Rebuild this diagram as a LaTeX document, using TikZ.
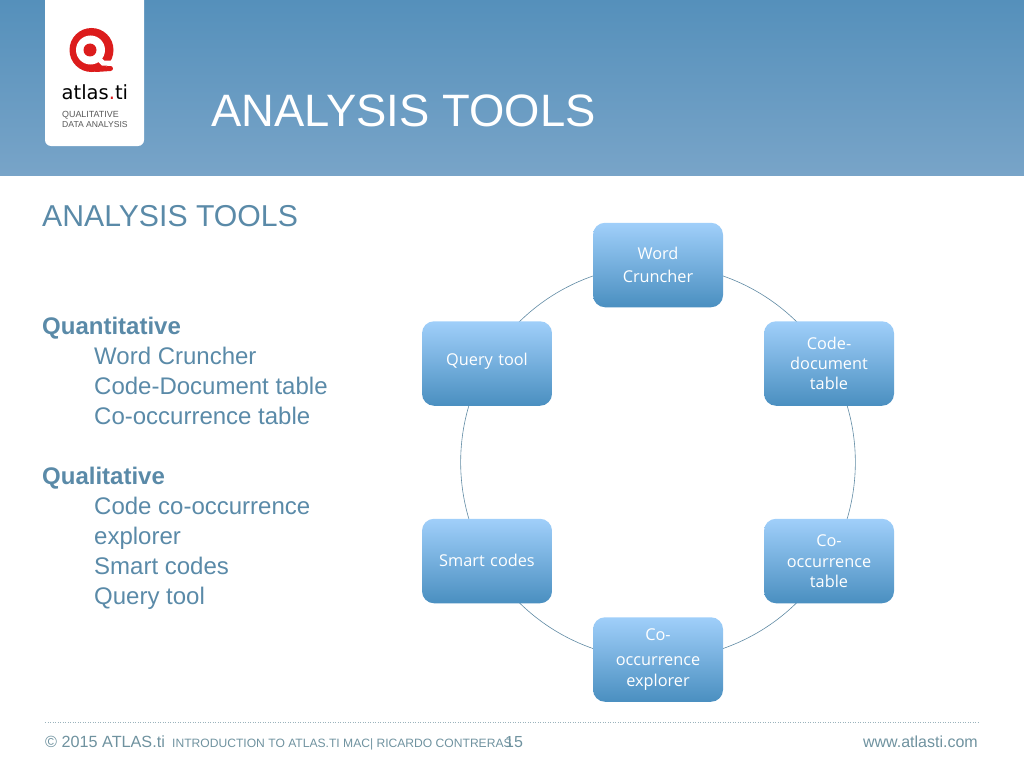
\documentclass[tikz,border=0pt]{standalone}
\usepackage{fontspec}
\setmainfont{Liberation Sans}
\newfontfamily\boxfont{Open Sans}
\newfontfamily\logofont{DejaVu Sans}
\usetikzlibrary{backgrounds}
\definecolor{headtop}{HTML}{5590BB}
\definecolor{headbot}{HTML}{78A4C8}
\definecolor{boxtop}{HTML}{A0CFFA}
\definecolor{boxbot}{HTML}{4A8FC0}
\definecolor{bodytxt}{HTML}{5A8AA8}
\definecolor{foottxt}{HTML}{6F929F}
\definecolor{ringcol}{HTML}{5F8AA3}
\definecolor{logored}{HTML}{DC1C1C}
\newcommand{\fs}[1]{\fontsize{#1}{#1}\selectfont}
\newcommand{\dn}[1]{\vspace*{#1}}
\tikzset{
  x=1pt,y=-1pt,
  cyclebox/.style={rectangle,rounded corners=12pt,minimum width=130pt,minimum height=84.5pt,
    top color=boxtop,bottom color=boxbot,inner sep=2pt,text=white,align=center,text width=110pt,
    font={\boxfont\fontsize{16.3}{20.3}\selectfont}},
  ringarc/.style={draw=ringcol,line width=0.6pt,bend left=30,looseness=0.912},
  bodytext/.style={anchor=north west,align=left,inner sep=0pt,text=bodytxt,font={\fontsize{24}{30}\selectfont}},
  foot/.style={inner sep=0pt,text=foottxt,anchor=base west},
}
\begin{document}
\begin{tikzpicture}
\useasboundingbox (0,0) rectangle (1024,768);
% header
\shade[top color=headtop,bottom color=headbot] (0,0) rectangle (1024,175);
\fill[white,rounded corners=6pt] (45,-12) rectangle (144,146);
% logo
\fill[logored] (91.5,50) circle[radius=22];
\fill[white] (90.5,50) circle[radius=14.5];
\fill[logored] (90,50) circle[radius=6.5];
\draw[white,line width=5pt] (96,56) -- (103,63) -- (116,63);
\draw[logored,line width=5pt,line cap=round] (96,69.5) -- (110.5,68.5);
\node[inner sep=0pt,anchor=base west] (logoname) at (61.5,99) {\logofont\fs{19.5}atlas{\color{logored}.}ti};
\node[inner sep=0pt,anchor=base west,text=black!65] (logoa) at (62,117) {\fs{8.9}QUALITATIVE};
\node[inner sep=0pt,anchor=base west,text=black!65] (logob) at (62,127) {\fs{8.6}DATA ANALYSIS};
% title
\node[inner sep=0pt,anchor=base west,text=white] (title) at (211,126.5) {\fs{45.4}ANALYSIS TOOLS};
\node[inner sep=0pt,anchor=base west,text=bodytxt] (subtitle) at (42,226) {\fs{30.2}ANALYSIS TOOLS};
% body
\node[bodytext] (quant) at (42,317) {\textbf{Quantitative}\\\hspace*{52pt}Word Cruncher\\\hspace*{52pt}Code-Document table\\\hspace*{52pt}Co-occurrence table};
\node[bodytext] (qual) at (42,467) {\textbf{Qualitative}\\\hspace*{52pt}Code co-occurrence\\\hspace*{52pt}explorer\\\hspace*{52pt}Smart codes\\\hspace*{52pt}Query tool};
% boxes
\node[cyclebox] (word) at (658,265) {\dn{2pt}Word\\Cruncher};
\node[cyclebox] (code) at (829,363.5) {Code-\\document\\table};
\node[cyclebox] (cooc) at (829,561) {\dn{1pt}Co-\\occurrence\\table};
\node[cyclebox] (expl) at (658,659.5) {\dn{5pt}Co-\\occurrence\\explorer};
\node[cyclebox] (smart) at (487,561) {\dn{2pt}Smart codes};
\node[cyclebox] (query) at (487,363.5) {\dn{5pt}Query tool};
\begin{scope}[on background layer]
\draw[ringarc] (word.center) to (code.center);
\draw[ringarc] (code.center) to (cooc.center);
\draw[ringarc] (cooc.center) to (expl.center);
\draw[ringarc] (expl.center) to (smart.center);
\draw[ringarc] (smart.center) to (query.center);
\draw[ringarc] (query.center) to (word.center);
\end{scope}
% footer
\draw[foottxt!70,line width=1pt,dash pattern=on 1pt off 1.5pt] (45,722) -- (980,722);
\node[foot] (copy) at (45,747.5) {\fs{16.2}© 2015 ATLAS.ti};
\node[foot] (intro) at (172,747.5) {\fs{12.1}INTRODUCTION TO ATLAS.TI MAC| RICARDO CONTRERAS};
\node[foot] (page) at (505,747.5) {\fs{16}15};
\node[foot,anchor=base east] (web) at (978,747.5) {\fs{16}www.atlasti.com};
\end{tikzpicture}
\end{document}
